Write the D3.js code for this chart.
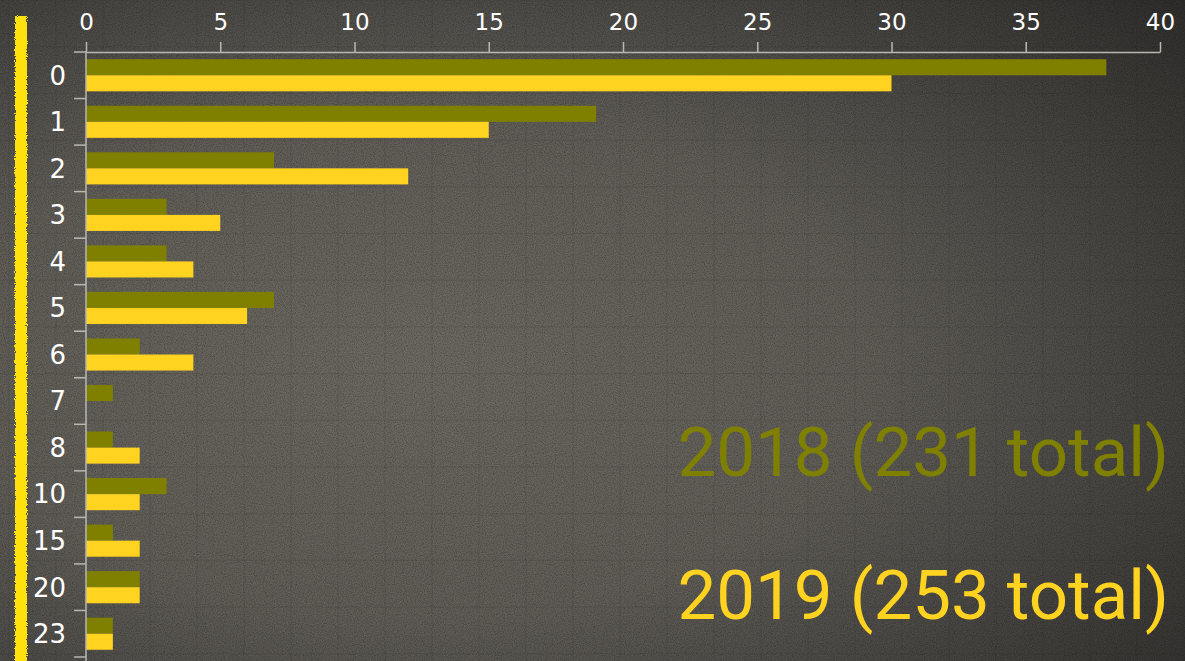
<!DOCTYPE html>
<html>
<head>
<meta charset="utf-8">
<script src="https://cdn.jsdelivr.net/npm/d3@7"></script>
<style>
  html, body { margin: 0; padding: 0; background: #3c3b38; }
  svg { display: block; }
</style>
</head>
<body>
<div id="wrapper"></div>
<script>
const categories = ["0", "1", "2", "3", "4", "5", "6", "7", "8", "10", "15", "20", "23"];
const values2018 = [38, 19, 7, 3, 3, 7, 2, 1, 1, 3, 1, 2, 1];
const values2019 = [30, 15, 12, 5, 4, 6, 4, 0, 2, 2, 2, 2, 1];
const xTicks = [0, 5, 10, 15, 20, 25, 30, 35, 40];
const legendLabels = ["2018 (231 total)", "2019 (253 total)"];

function buildPlot() {
    const dimension = {
        width: 1185,
        height: 661,
        margin: { top: 52, left: 86, bottom: 4, right: 25 }
    };
    dimension.boundedWidth = dimension.width - dimension.margin.left - dimension.margin.right;
    dimension.boundedHeight = dimension.height - dimension.margin.top - dimension.margin.bottom;

    const colors = { y2018: "#808000", y2019: "#ffd320" };

    const svg = d3.select("#wrapper").append("svg")
        .attr("width", dimension.width)
        .attr("height", dimension.height);

    // background: dark paper with gradient, grain and faint grid
    const defs = svg.append("defs");
    const grad = defs.append("radialGradient").attr("id", "bg")
        .attr("cx", 0.35).attr("cy", 0.55).attr("r", 0.85);
    grad.append("stop").attr("offset", "0%").attr("stop-color", "#6d6a63");
    grad.append("stop").attr("offset", "45%").attr("stop-color", "#615e58");
    grad.append("stop").attr("offset", "100%").attr("stop-color", "#2f2e2c");

    const grain = defs.append("filter").attr("id", "grain")
        .attr("x", 0).attr("y", 0).attr("width", "100%").attr("height", "100%");
    grain.append("feTurbulence").attr("type", "fractalNoise")
        .attr("baseFrequency", 0.9).attr("numOctaves", 2).attr("seed", 3);
    grain.append("feColorMatrix").attr("type", "matrix")
        .attr("values", "0 0 0 0 0  0 0 0 0 0  0 0 0 0 0  0 0 0 -1.4 0.9");

    const chalk = defs.append("filter").attr("id", "chalk")
        .attr("x", "-50%").attr("y", "-5%").attr("width", "200%").attr("height", "110%");
    chalk.append("feTurbulence").attr("type", "fractalNoise")
        .attr("baseFrequency", 0.9).attr("numOctaves", 2).attr("result", "n");
    chalk.append("feDisplacementMap").attr("in", "SourceGraphic").attr("in2", "n")
        .attr("scale", 4).attr("xChannelSelector", "R").attr("yChannelSelector", "G");

    svg.append("rect").attr("width", dimension.width).attr("height", dimension.height)
        .attr("fill", "url(#bg)");
    svg.append("rect").attr("width", dimension.width).attr("height", dimension.height)
        .attr("filter", "url(#grain)").attr("opacity", 0.35);

    const grid = svg.append("g").attr("stroke", "#2a2925").attr("stroke-opacity", 0.12);
    d3.range(9, dimension.width, 47).forEach(x => {
        grid.append("line").attr("x1", x).attr("x2", x).attr("y1", 0).attr("y2", dimension.height);
    });
    d3.range(0, dimension.height, 46.7).forEach(y => {
        grid.append("line").attr("x1", 0).attr("x2", dimension.width).attr("y1", y).attr("y2", y);
    });

    // chalk stripe on the left
    svg.append("rect")
        .attr("x", 15).attr("y", 16).attr("width", 12).attr("height", 660)
        .attr("fill", "#ffe20a")
        .attr("filter", "url(#chalk)");

    const bounded = svg.append("g")
        .attr("transform", `translate(${dimension.margin.left},${dimension.margin.top})`);

    const xScaler = d3.scaleLinear()
        .domain([0, 40])
        .range([0, 1074]);

    const yScaler = d3.scaleBand()
        .domain(categories)
        .range([0, 605])
        .paddingInner(0.31)
        .paddingOuter(0.155);

    const half = yScaler.bandwidth() / 2;

    bounded.append("g").selectAll("rect")
        .data(categories)
        .join("rect")
        .attr("x", 0)
        .attr("y", d => yScaler(d))
        .attr("width", (d, i) => xScaler(values2018[i]))
        .attr("height", half)
        .attr("fill", colors.y2018);

    bounded.append("g").selectAll("rect")
        .data(categories)
        .join("rect")
        .attr("x", 0)
        .attr("y", d => yScaler(d) + half)
        .attr("width", (d, i) => xScaler(values2019[i]))
        .attr("height", half)
        .attr("fill", colors.y2019);

    // top x axis
    const xAxis = bounded.append("g")
        .call(d3.axisTop(xScaler).tickValues(xTicks).tickSize(10).tickSizeOuter(0));
    xAxis.select(".domain").attr("stroke", "#b9b7b2").attr("stroke-width", 1.5);
    xAxis.selectAll(".tick line").attr("stroke", "#b9b7b2").attr("stroke-width", 1.5);
    xAxis.selectAll(".tick text")
        .attr("fill", "#ffffff")
        .attr("font-family", "DejaVu Sans")
        .attr("font-size", 23)
        .attr("y", -22);

    // left axis, ticks between categories
    const step = yScaler.step();
    const boundaries = categories.map(d => yScaler(d) - step * yScaler.paddingInner() / 2)
        .concat([yScaler(categories[categories.length - 1]) + yScaler.bandwidth() + step * yScaler.paddingInner() / 2]);
    const yAxis = bounded.append("g").attr("stroke", "#b9b7b2").attr("stroke-width", 1.5);
    yAxis.append("line").attr("x1", 0).attr("x2", 0).attr("y1", 0).attr("y2", dimension.boundedHeight + 10);
    yAxis.selectAll(".tk").data(boundaries).join("line")
        .attr("class", "tk")
        .attr("x1", -12).attr("x2", 0)
        .attr("y1", d => d).attr("y2", d => d);

    bounded.append("g").selectAll("text")
        .data(categories)
        .join("text")
        .attr("x", -20)
        .attr("y", d => yScaler(d) + yScaler.bandwidth() / 2)
        .attr("dy", "0.36em")
        .attr("text-anchor", "end")
        .attr("fill", "#ffffff")
        .attr("font-family", "DejaVu Sans")
        .attr("font-size", 26)
        .text(d => d);

    // legend
    svg.append("text")
        .attr("x", 1169).attr("y", 476)
        .attr("text-anchor", "end")
        .attr("font-family", "Roboto")
        .attr("font-size", 69)
        .attr("fill", colors.y2018)
        .text(legendLabels[0]);
    svg.append("text")
        .attr("x", 1169).attr("y", 619)
        .attr("text-anchor", "end")
        .attr("font-family", "Roboto")
        .attr("font-size", 69)
        .attr("fill", colors.y2019)
        .text(legendLabels[1]);
}

buildPlot();
</script>
</body>
</html>
